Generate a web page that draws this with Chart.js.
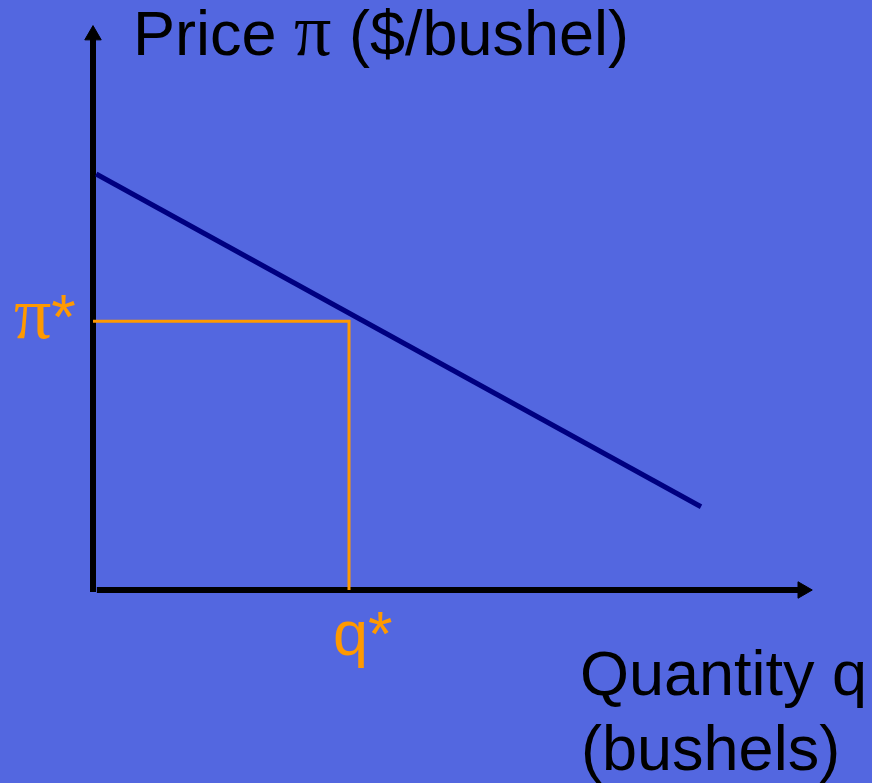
<!DOCTYPE html>
<html>
<head>
<meta charset="utf-8">
<title>Demand curve</title>
<script src="https://cdn.jsdelivr.net/npm/chart.js@4"></script>
<style>
    html, body { margin: 0; padding: 0; background: #5367E0; }
    #wrap { width: 872px; height: 783px; position: relative; }
</style>
</head>
<body>
<div id="wrap"><canvas id="demandChart"></canvas></div>
<script>
// Data (quantity units / price units)
const demandQ = [0.05, 9.5];
const demandP = [6.5, 1.3];
const qStar = 4.0;
const piStar = 4.2;
const xAxisEnd = 11.09;
const yAxisEnd = 8.67;

const BG = '#5367E0';
const SANS = '"Liberation Sans", Arial, sans-serif';
const SERIF = '"Liberation Serif", "Times New Roman", serif';

// draw a run of [text, font, size] pieces left to right
function drawRuns(ctx, runs, x, y, size, color) {
    ctx.fillStyle = color;
    ctx.textBaseline = 'alphabetic';
    ctx.textAlign = 'left';
    runs.forEach(([txt, fam, sz]) => {
        ctx.font = (sz || size) + 'px ' + fam;
        ctx.fillText(txt, x, y);
        x += ctx.measureText(txt).width;
    });
}

const labelsPlugin = {
    id: 'econLabels',
    afterDatasetsDraw(chart) {
        const {ctx, scales: {x, y}} = chart;
        const x0 = x.getPixelForValue(0);
        const y0 = y.getPixelForValue(0);
        ctx.save();
        // axis titles
        drawRuns(ctx, [['Price ', SANS], ['\u03C0', SERIF, 74], [' ($/bushel)', SANS]],
            x0 + 40, y.getPixelForValue(yAxisEnd) + 20, 63, '#000');
        drawRuns(ctx, [['Quantity q', SANS]], x0 + 487, y0 + 105, 63, '#000');
        drawRuns(ctx, [['(bushels)', SANS]], x0 + 488, y0 + 180, 63, '#000');
        // equilibrium labels
        drawRuns(ctx, [['\u03C0', SERIF, 74], ['*', SANS]], x0 - 79, y.getPixelForValue(piStar) + 17, 63, '#FF9900');
        drawRuns(ctx, [['q*', SANS]], x.getPixelForValue(qStar) - 16, y0 + 65, 63, '#FF9900');
        ctx.restore();
    }
};

const ctx = document.getElementById('demandChart');
new Chart(ctx, {
    type: 'scatter',
    data: {
        datasets: [
            {
                // guide lines to pi* and q*
                data: [{x: 0, y: piStar}, {x: qStar, y: piStar}, {x: qStar, y: 0}],
                showLine: true,
                borderColor: '#FF9900',
                borderWidth: 3,
                pointRadius: 0,
                tension: 0
            },
            {
                // demand curve
                data: demandQ.map((q, i) => ({x: q, y: demandP[i]})),
                showLine: true,
                borderColor: '#000080',
                borderWidth: 5,
                pointRadius: 0,
                tension: 0
            },
            {
                // y axis with arrow
                data: [{x: 0, y: -0.03}, {x: 0, y: yAxisEnd}],
                showLine: true,
                borderColor: '#000',
                borderWidth: 6,
                pointRadius: [0, 9.5],
                pointStyle: 'triangle',
                pointBackgroundColor: '#000',
                pointBorderColor: '#000',
                pointBorderWidth: 1,
                rotation: 0
            },
            {
                // x axis with arrow
                data: [{x: 0.06, y: 0}, {x: xAxisEnd, y: 0}],
                showLine: true,
                borderColor: '#000',
                borderWidth: 6,
                pointRadius: [0, 9.5],
                pointStyle: 'triangle',
                pointBackgroundColor: '#000',
                pointBorderColor: '#000',
                pointBorderWidth: 1,
                rotation: 90
            }
        ]
    },
    options: {
        responsive: true,
        maintainAspectRatio: false,
        animation: false,
        layout: {padding: 0, autoPadding: false},
        plugins: {
            legend: {display: false},
            tooltip: {enabled: false}
        },
        scales: {
            x: {type: 'linear', display: false, min: -93 / 64, max: 779 / 64},
            y: {type: 'linear', display: false, min: -193 / 64, max: 590 / 64}
        }
    },
    plugins: [labelsPlugin, {
        id: 'bg',
        beforeDraw(chart) {
            const c = chart.ctx;
            c.save();
            c.fillStyle = BG;
            c.fillRect(0, 0, chart.width, chart.height);
            c.restore();
        }
    }]
});
</script>
</body>
</html>
